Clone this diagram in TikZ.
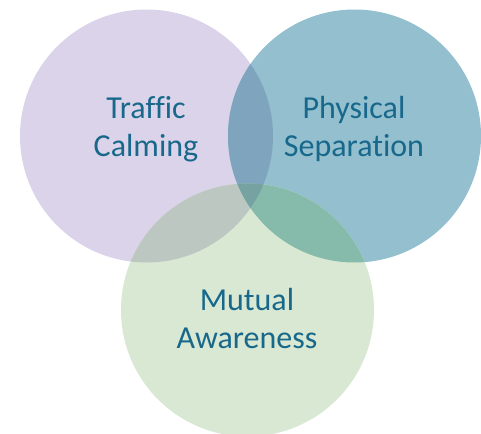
\documentclass[tikz,border=0pt]{standalone}
\usepackage{fontspec}
\setmainfont[RawFeature={-liga}]{Carlito}
\definecolor{cpurple}{RGB}{218,211,233}
\definecolor{cblue}{RGB}{147,191,207}
\definecolor{cgreen}{RGB}{217,232,211}
\definecolor{cpb}{RGB}{126,164,190}
\definecolor{cpg}{RGB}{188,199,194}
\definecolor{cbg}{RGB}{134,186,170}
\definecolor{cpbg}{RGB}{118,163,162}
\definecolor{ctext}{RGB}{23,104,139}
\begin{document}
\begin{tikzpicture}[x=1pt,y=-1pt,
  venn/.style={circle,minimum size=253pt,inner sep=0pt,draw=none},
  lbl/.style={anchor=base,inner sep=0pt,text=ctext,font=\fontsize{32}{38}\selectfont}]
\def\rr{126.5}
\useasboundingbox (0,0) rectangle (481,433);
\node[venn,fill=cpurple] (tc) at (146.5,136) {};
\node[venn,fill=cblue] (ps) at (354.5,136) {};
\node[venn,fill=cgreen] (ma) at (247.5,310) {};
\begin{scope}
  \clip (tc.center) circle[radius=\rr];
  \fill[cpb] (ps.center) circle[radius=\rr];
  \fill[cpg] (ma.center) circle[radius=\rr];
\end{scope}
\begin{scope}
  \clip (ps.center) circle[radius=\rr];
  \fill[cbg] (ma.center) circle[radius=\rr];
  \clip (tc.center) circle[radius=\rr];
  \fill[cpbg] (ma.center) circle[radius=\rr];
\end{scope}
\node[lbl] (tc1) at (146,118) {Traffic};
\node[lbl] (tc2) at (146,156) {Calming};
\node[lbl] (ps1) at (354,118) {Physical};
\node[lbl] (ps2) at (354,156) {Separation};
\node[lbl] (ma1) at (247,310) {Mutual};
\node[lbl] (ma2) at (247,348) {Awareness};
\end{tikzpicture}
\end{document}
